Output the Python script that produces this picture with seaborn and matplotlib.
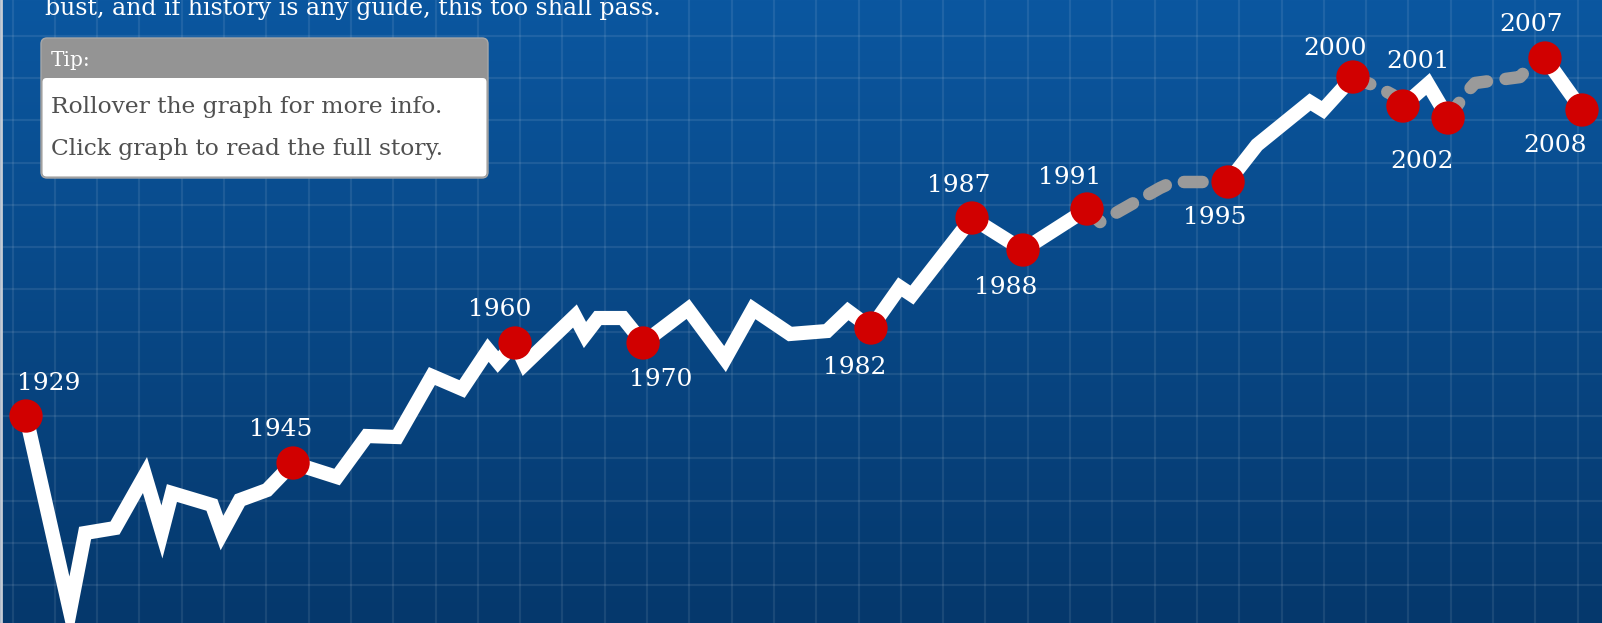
import numpy as np
import pandas as pd
import matplotlib
matplotlib.use("Agg")
import matplotlib.pyplot as plt
from matplotlib.patches import FancyBboxPatch
import seaborn as sns

# ---------------- data ----------------
time = [1929.00, 1931.23, 1932.00, 1933.52, 1935.04, 1935.90, 1936.41, 1938.44, 1938.95, 1939.86,
        1941.24, 1942.56, 1944.79, 1946.31, 1947.84, 1949.61, 1951.14, 1952.46, 1952.96, 1953.83,
        1954.33, 1956.87, 1957.38, 1958.04, 1959.31, 1960.33, 1962.61, 1964.49, 1965.91, 1967.79,
        1969.67, 1970.73, 1971.90, 1973.37, 1973.98, 1977.03, 1979.62, 1982.87, 1983.53, 1986.57,
        1987.23, 1990.03, 1991.50, 1994.19, 1994.85, 1996.37, 1997.74, 1998.40, 1998.91, 2000.18,
        2001.20, 2002.16, 2002.57, 2004.85, 2005.26, 2006.12, 2008.00]
value = [35.96, 1.07, 15.03, 15.92, 25.40, 15.21, 22.18, 20.04, 15.03, 20.93,
         22.72, 27.55, 25.04, 32.38, 32.20, 43.11, 40.79, 47.76, 45.62, 49.02,
         45.26, 53.85, 50.45, 53.49, 53.49, 49.02, 55.10, 46.15, 55.10, 50.63,
         51.16, 54.74, 51.70, 59.03, 57.60, 71.38, 65.65, 72.99, 70.66, 76.74,
         77.82, 77.82, 84.44, 92.13, 90.70, 96.60, 94.63, 93.38, 91.41, 95.35,
         89.27, 93.92, 95.53, 96.60, 98.21, 100.0, 90.70]

key_years = ["1929", "1945", "1960", "1970", "1982", "1987", "1988",
             "1991", "1995", "2000", "2001", "2002", "2007", "2008"]
key_index = [0, 11, 19, 25, 32, 35, 36, 37, 41, 45, 48, 50, 55, 56]

dashed_spans = [("1991", "1995"), ("2000", "2001"), ("2002", "2007")]

intro_text = "bust, and if history is any guide, this too shall pass."
tip_title = "Tip:"
tip_lines = ["Rollover the graph for more info.", "Click graph to read the full story."]

# label offsets from the dot, in pixels (dx right, dy down) -- layout only
label_offsets = [(23, -35), (-12, -36), (-15, -36), (18, 34), (-16, 37), (-13, -35), (-17, 35),
                 (-17, -34), (-13, 33), (-18, -31), (15, -47), (-26, 41), (-14, -36), (-27, 33)]

# ---------------- build segments ----------------
pos = dict(zip(key_years, key_index))
n = len(time)
is_dashed = np.zeros(n - 1, dtype=bool)
for a, b in dashed_spans:
    is_dashed[pos[a]:pos[b]] = True

rows_solid, rows_dash = [], []
seg_id = 0
i = 0
while i < n - 1:
    j = i
    while j < n - 1 and is_dashed[j] == is_dashed[i]:
        j += 1
    target = rows_dash if is_dashed[i] else rows_solid
    for k in range(i, j + 1):
        target.append({"time": time[k], "value": value[k], "seg": seg_id})
    seg_id += 1
    i = j
solid_df = pd.DataFrame(rows_solid)
dash_df = pd.DataFrame(rows_dash)
key_df = pd.DataFrame({"time": [time[k] for k in key_index],
                       "value": [value[k] for k in key_index],
                       "year": key_years})

# ---------------- figure ----------------
plt.rcParams["font.family"] = ["DejaVu Serif"]
W, H = 1602, 623
fig = plt.figure(figsize=(W / 100, H / 100), dpi=100)

# background (pixel coordinates)
bg = fig.add_axes([0, 0, 1, 1])
bg.set_xlim(0, W)
bg.set_ylim(H, 0)
bg.axis("off")
top = np.array([11, 87, 160]) / 255
bot = np.array([5, 56, 108]) / 255
t = np.linspace(0, 1, 256)[:, None, None]
grad = top[None, None, :] * (1 - t) + bot[None, None, :] * t
bg.imshow(grad, extent=(0, W, H, 0), aspect="auto", zorder=0)
for gx in np.arange(12.5, W, 42.3):
    bg.axvline(gx, color="white", alpha=0.085, lw=1.6, zorder=1)
for gy in np.arange(35.75, H, 42.25):
    bg.axhline(gy, color="white", alpha=0.085, lw=1.6, zorder=1)
bg.axvline(1.2, color="#c5ccd6", lw=2.0, zorder=2)

# intro text (clipped at top as in the original)
bg.text(45, 15, intro_text, color="white", fontsize=17, ha="left", va="baseline", zorder=3)

# tip box
bg.add_patch(FancyBboxPatch((41, 38), 447, 140, boxstyle="round,pad=0,rounding_size=6",
                            fc="#949494", ec="#a8a8a8", lw=1.0, zorder=3))
bg.add_patch(FancyBboxPatch((42.5, 78), 444, 98.5, boxstyle="round,pad=0,rounding_size=4",
                            fc="white", ec="none", zorder=4))
bg.text(51, 66, tip_title, color="white", fontsize=14.5, ha="left", va="baseline", zorder=5)
for yb, line in zip([113, 155], tip_lines):
    bg.text(51, yb, line, color="#505050", fontsize=16.8, ha="left", va="baseline", zorder=5)

# data axes
ax = fig.add_axes([0, 0, 1, 1])
ax.patch.set_alpha(0)
ax.set_xlim(1927.68, 2009.015)
ax.set_ylim(-1.07, 110.38)
ax.axis("off")

sns.lineplot(data=solid_df, x="time", y="value", units="seg", estimator=None, sort=False,
             color="white", lw=10.2, solid_joinstyle="miter", solid_capstyle="round",
             ax=ax, legend=False, zorder=3)
n_before = len(ax.lines)
sns.lineplot(data=dash_df, x="time", y="value", units="seg", estimator=None, sort=False,
             color="#9a9a9a", lw=9.0, ax=ax, legend=False, zorder=3)
for ln in ax.lines[n_before:]:
    ln.set_linestyle((0, (1.5, 1.5)))
    ln.set_dash_capstyle("round")
    ln.set_dash_joinstyle("round")

sns.scatterplot(data=key_df, x="time", y="value", color="#d10000", s=24 ** 2,
                edgecolor="none", linewidth=0, ax=ax, legend=False, zorder=5)

for (tx, vy, yr), (dx, dy) in zip(zip(key_df["time"], key_df["value"], key_df["year"]), label_offsets):
    ax.annotate(yr, xy=(tx, vy), xytext=(dx * 0.72, -(dy + 9) * 0.72), textcoords="offset points",
                ha="center", va="baseline", color="white", fontsize=18, zorder=6)

ax.set_xlabel("")
ax.set_ylabel("")
fig.savefig("out.png", dpi=100)
